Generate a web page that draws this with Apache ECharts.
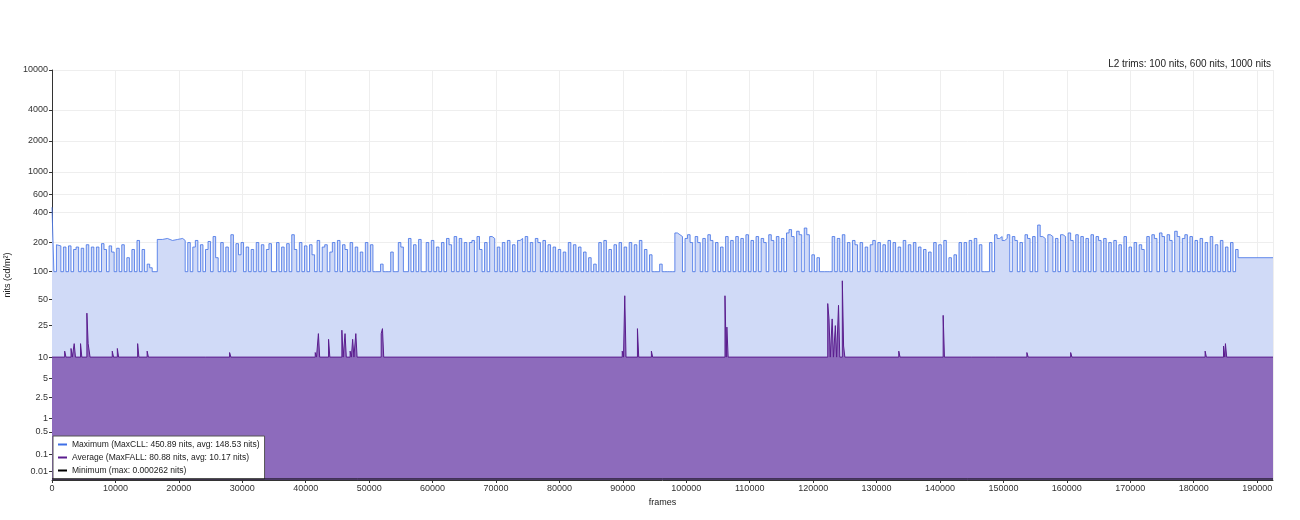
<!DOCTYPE html>
<html><head><meta charset="utf-8">
<script src="https://cdn.jsdelivr.net/npm/echarts@6/dist/echarts.min.js"></script>
<style>html,body{margin:0;background:#fff}#c{width:1300px;height:520px}</style>
</head><body><div id="c"></div>
<script>
var tickNits = [0.01, 0.1, 0.5, 1, 2.5, 5, 10, 25, 50, 100, 200, 400, 600, 1000, 2000, 4000, 10000];

// maximum per frame (nits)
var maxFrames = [0,300,700,1000,1400,1800,2200,2600,3000,3400,3800,4200,4600,5000,5400,5800,6200,6600,7000,7400,7800,8200,8600,9000,9400,9800,10200,10600,11000,11400,11800,12200,12600,13000,13400,13800,14200,14600,15000,15400,15800,16600,17400,18200,19000,19800,20600,21000,21400,21800,22200,22600,23000,23400,23800,24200,24600,25000,25400,25800,26200,26600,27000,27400,27800,28200,28600,29000,29400,29800,30200,30600,31000,31400,31800,32200,32600,33000,33400,33800,34200,34600,35000,35400,35800,36200,36600,37000,37400,37800,38200,38600,39000,39400,39800,40200,40600,41000,41400,41800,42200,42600,43000,43400,43800,44200,44600,45000,45400,45800,46200,46600,47000,47400,47800,48200,48600,49000,49400,49800,50200,50600,51000,51400,51800,52200,52600,53000,53400,53800,54200,54600,55000,55400,55800,56200,56600,57000,57400,57800,58200,58600,59000,59400,59800,60200,60600,61000,61400,61800,62200,62600,63000,63400,63800,64200,64600,65000,65400,65800,66200,66600,67000,67400,67800,68200,68600,69000,69400,69800,70200,70600,71000,71400,71800,72200,72600,73000,73400,73800,74200,74600,75000,75400,75800,76200,76600,77000,77400,77800,78200,78600,79000,79400,79800,80200,80600,81000,81400,81800,82200,82600,83000,83400,83800,84200,84600,85000,85400,85800,86200,86600,87000,87400,87800,88200,88600,89000,89400,89800,90200,90600,91000,91400,91800,92200,92600,93000,93400,93800,94200,94600,95000,95400,95800,96200,96600,97000,97400,97800,98200,98600,99000,99400,99800,100200,100600,101000,101400,101800,102200,102600,103000,103400,103800,104200,104600,105000,105400,105800,106200,106600,107000,107400,107800,108200,108600,109000,109400,109800,110200,110600,111000,111400,111800,112200,112600,113000,113400,113800,114200,114600,115000,115400,115800,116200,116600,117000,117400,117800,118200,118600,119000,119400,119800,120200,120600,121000,121400,121800,122200,122600,123000,123400,123800,124200,124600,125000,125400,125800,126200,126600,127000,127400,127800,128200,128600,129000,129400,129800,130200,130600,131000,131400,131800,132200,132600,133000,133400,133800,134200,134600,135000,135400,135800,136200,136600,137000,137400,137800,138200,138600,139000,139400,139800,140200,140600,141000,141400,141800,142200,142600,143000,143400,143800,144200,144600,145000,145400,145800,146200,146600,147000,147400,147800,148200,148600,149000,149400,149800,150200,150600,151000,151400,151800,152200,152600,153000,153400,153800,154200,154600,155000,155400,155800,156200,156600,157000,157400,157800,158200,158600,159000,159400,159800,160200,160600,161000,161400,161800,162200,162600,163000,163400,163800,164200,164600,165000,165400,165800,166200,166600,167000,167400,167800,168200,168600,169000,169400,169800,170200,170600,171000,171400,171800,172200,172600,173000,173400,173800,174200,174600,175000,175400,175800,176200,176600,177000,177400,177800,178200,178600,179000,179400,179800,180200,180600,181000,181400,181800,182200,182600,183000,183400,183800,184200,184600,185000,185400,185800,186200,186600];
var maxNits = [450,100,190,185,100,180,100,185,100,170,180,100,175,100,190,100,180,100,180,100,195,170,100,185,160,100,175,100,190,100,140,100,170,100,210,100,170,100,120,110,100,215,220,210,215,220,210,100,200,100,180,210,100,190,100,170,205,100,230,140,100,200,100,180,100,240,100,195,150,200,100,180,100,170,100,200,100,190,100,170,195,100,100,200,100,180,100,195,100,240,170,100,200,100,185,100,190,150,100,210,100,180,190,100,160,200,100,210,100,190,170,100,200,100,180,100,160,100,200,100,190,100,100,100,120,100,100,100,160,100,100,200,180,100,100,220,100,190,100,215,100,100,200,100,210,100,180,100,200,100,220,190,100,230,100,220,100,200,100,200,210,100,230,170,100,200,100,230,220,100,180,100,200,100,210,100,190,100,210,220,100,230,100,200,100,220,200,100,210,100,190,100,180,100,170,100,160,100,200,100,190,100,180,100,160,100,140,100,120,100,200,100,210,100,170,100,190,100,200,100,180,100,200,100,190,100,210,100,170,100,150,100,100,100,120,100,100,100,100,100,250,240,230,100,220,240,200,100,230,200,100,220,100,240,210,100,200,100,180,100,230,100,210,100,230,100,220,100,240,100,210,100,230,100,220,200,100,240,210,100,230,100,220,100,250,270,230,100,260,240,100,280,240,100,150,100,140,100,100,100,100,100,230,100,220,100,240,100,200,100,210,190,100,200,100,180,100,190,210,100,200,100,190,100,210,100,200,100,180,100,210,100,190,100,200,100,180,100,170,100,160,100,200,100,190,100,210,100,140,100,150,100,200,100,200,100,210,100,220,100,190,100,100,100,200,100,240,220,230,210,220,240,100,230,210,100,200,100,240,220,100,230,100,300,230,220,100,240,230,100,220,100,240,230,100,250,210,100,240,100,230,100,220,100,240,100,230,210,100,220,100,200,100,210,100,190,100,230,100,180,100,200,100,190,170,100,
  230,100,240,220,100,250,230,100,240,210,100,260,230,100,220,240,100,230,100,210,100,220,100,200,100,230,100,190,100,210,100,180,100,200,100,170,100,190,170,180,100,100,100];
// last flat stretch at the end of the file
var tailFrames = [187000, 192500];
var tailNits = [140, 140];

var avgFrames = [0,2000,2200,3000,3200,3500,3700,4500,4700,5500,5700,5800,6000,9500,9700,10300,10500,13500,13700,15000,15200,24200,24400,28000,28200,32000,32200,41500,41700,42000,42200,43600,43800,45700,45900,46200,46400,47000,47200,47400,47600,47900,48100,51900,52100,52300,89900,90100,90300,90500,92300,92500,94500,94700,106100,106300,106400,106600,122300,122500,122700,123000,123200,123500,123700,124000,124200,124600,124800,125000,133500,133700,140500,140700,145000,145200,148800,149000,153700,153900,160600,160800,181800,182000,184700,184900,185000,185200,192500];
var avgNits = [10,12,10,13,10,15,10,15,10,35,15,15,10,12,10,13,10,15,10,12,10,10.5,10,11.5,10,10.3,10,11.5,10,20,10,17,10,22,10,20,10,12,10,17,10,20,10,20,23,10,12,10,55,10,23,10,12,10,55,10,24,10,45,30,10,30,10,25,10,43,10,80,14,10,12,10,33,10,10.5,10,10.3,10,11.5,10,11.5,10,12,10,14,10,15,10,10];

var minFrames = [0, 192500];
var minNits = [0.0002, 0.0002];

function pq(L) {
  var m1 = 0.1593017578125, m2 = 78.84375, c1 = 0.8359375, c2 = 18.8515625, c3 = 18.6875;
  var y = Math.pow(Math.max(L, 0) / 10000, m1);
  return Math.pow((c1 + c2 * y) / (1 + c3 * y), m2);
}
function pairs(fr, v) {
  var n = Math.min(fr.length, v.length);
  var out = [];
  for (var i = 0; i < n; i++) out.push([fr[i], pq(v[i])]);
  return out;
}
var tickPq = tickNits.map(pq);

var chart = echarts.init(document.getElementById('c'));
chart.setOption({
  animation: false,
  textStyle: { fontFamily: 'Arial, Liberation Sans, sans-serif' },
  title: {
    text: 'L2 trims: 100 nits, 600 nits, 1000 nits',
    right: 24, top: 54,
    textStyle: { fontSize: 10, fontWeight: 'normal', color: '#222' }
  },
  grid: { left: 52, right: 27, top: 70, bottom: 40, containLabel: false, outerBoundsMode: 'none' },
  legend: {
    orient: 'vertical', left: 53, top: 436,
    backgroundColor: '#fff', borderColor: '#555', borderWidth: 1,
    padding: [4, 5], itemGap: 4, itemWidth: 9, itemHeight: 2,
    icon: 'rect',
    textStyle: { fontSize: 8.5, color: '#222' },
    data: ['Maximum (MaxCLL: 450.89 nits, avg: 148.53 nits)', 'Average (MaxFALL: 80.88 nits, avg: 10.17 nits)', 'Minimum (max: 0.000262 nits)']
  },
  xAxis: {
    type: 'value', min: 0, max: 192500, interval: 10000,
    name: 'frames', nameLocation: 'middle', nameGap: 16,
    nameTextStyle: { fontSize: 9, color: '#222' },
    axisLine: { lineStyle: { color: '#333' } },
    axisTick: { length: 3 },
    axisLabel: { fontSize: 9, color: '#333', margin: 4, showMaxLabel: false, formatter: function (v) { return String(v); } },
    splitLine: { lineStyle: { color: '#eee' } }
  },
  yAxis: {
    type: 'value', min: 0, max: 1,
    name: 'nits (cd/m²)', nameLocation: 'middle', nameGap: 17, nameRotate: 90,
    nameTextStyle: { fontSize: 9, color: '#222' },
    axisLine: { show: true, lineStyle: { color: '#333' } },
    axisTick: { show: true, length: 3, customValues: tickPq },
    axisLabel: {
      fontSize: 9, color: '#333', margin: 4, customValues: tickPq,
      formatter: function (v) {
        var best = 0;
        tickPq.forEach(function (p, i) { if (Math.abs(p - v) < Math.abs(tickPq[best] - v)) best = i; });
        return String(tickNits[best]);
      }
    },
    splitLine: { show: true, lineStyle: { color: '#eee' } }
  },
  series: [
    {
      name: 'Maximum (MaxCLL: 450.89 nits, avg: 148.53 nits)',
      type: 'line', step: 'end', symbol: 'none', z: 2,
      data: pairs(maxFrames, maxNits).concat(pairs(tailFrames, tailNits)),
      itemStyle: { color: '#3f6fe6' },
      lineStyle: { color: '#3f6fe6', width: 0.8 },
      areaStyle: { color: '#d0daf7', opacity: 1 }
    },
    {
      name: 'Average (MaxFALL: 80.88 nits, avg: 10.17 nits)',
      type: 'line', step: 'end', symbol: 'none', z: 3,
      data: pairs(avgFrames, avgNits),
      itemStyle: { color: '#5a1d8e' },
      lineStyle: { color: '#5a1d8e', width: 1 },
      areaStyle: { color: '#8d6bbc', opacity: 1 }
    },
    {
      name: 'Minimum (max: 0.000262 nits)',
      type: 'line', symbol: 'none', z: 4,
      data: pairs(minFrames, minNits),
      itemStyle: { color: '#000' },
      lineStyle: { color: '#000', width: 1 }
    }
  ]
});
</script></body></html>
